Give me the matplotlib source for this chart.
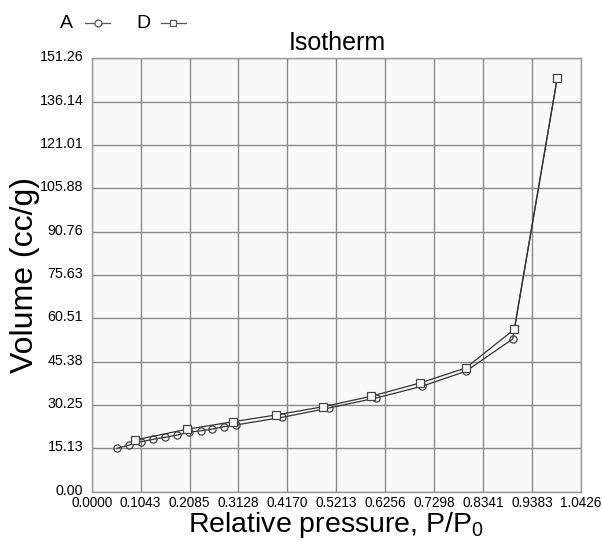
import matplotlib
matplotlib.use("Agg")
import matplotlib.pyplot as plt
import matplotlib.transforms as mtransforms
import numpy as np

plt.rcParams['font.family'] = ['Liberation Sans', 'DejaVu Sans']

# Series A (circles)
a_x = [0.0545, 0.0795, 0.1050, 0.1313, 0.1568, 0.1824, 0.2067, 0.2329, 0.2570,
       0.2819, 0.3068, 0.4061, 0.5056, 0.6058, 0.7032, 0.7969, 0.8971, 0.9921]
a_y = [15.15, 16.30, 17.45, 18.29, 18.99, 19.79, 20.73, 21.29, 21.88,
       22.69, 23.28, 25.97, 29.21, 32.70, 36.78, 42.02, 53.29, 144.49]

# Series D (squares)
d_x = [0.0923, 0.2024, 0.3017, 0.3921, 0.4935, 0.5951, 0.6995, 0.7969, 0.9005, 0.9921]
d_y = [18.04, 21.78, 24.43, 26.77, 29.67, 33.29, 37.94, 43.17, 56.68, 144.49]

x_ticks = [0.0000, 0.1043, 0.2085, 0.3128, 0.4170, 0.5213, 0.6256, 0.7298, 0.8341, 0.9383, 1.0426]
x_labels = ["0.0000", "0.1043", "0.2085", "0.3128", "0.4170", "0.5213", "0.6256",
            "0.7298", "0.8341", "0.9383", "1.0426"]
y_ticks = [0.00, 15.13, 30.25, 45.38, 60.51, 75.63, 90.76, 105.88, 121.01, 136.14, 151.26]
y_labels = ["0.00", "15.13", "30.25", "45.38", "60.51", "75.63", "90.76",
            "105.88", "121.01", "136.14", "151.26"]

fig = plt.figure(figsize=(6.02, 5.41), dpi=100)
fig.patch.set_facecolor('white')
ax = fig.add_axes([0.1523, 0.0911, 0.9651 - 0.1523, 0.8922 - 0.0911])
ax.set_facecolor('#f9f9f9')

ax.plot(a_x, a_y, color='#333333', lw=0.9, marker='o', ms=5.2, mfc='none',
        mec='#444444', mew=0.9, zorder=3)
ax.plot(d_x, d_y, color='#333333', lw=0.9, marker='s', ms=5.4, mfc='#f9f9f9',
        mec='#444444', mew=0.9, zorder=4)

ax.set_xlim(0, 1.0426)
ax.set_ylim(0, 151.26)
ax.set_xticks(x_ticks)
ax.set_xticklabels(x_labels, fontsize=9.8)
ax.set_yticks(y_ticks)
ax.set_yticklabels(y_labels, fontsize=10.3)
ax.tick_params(axis='x', length=0, pad=3)
ax.tick_params(axis='y', length=0, pad=6)
shift = mtransforms.ScaledTranslation(0, 2.5 / 100, fig.dpi_scale_trans)
for lab in ax.get_yticklabels():
    lab.set_verticalalignment('center_baseline')
    lab.set_transform(lab.get_transform() + shift)
ax.grid(True, color='#8a8a8a', lw=1.0)
ax.set_axisbelow(True)
for s in ax.spines.values():
    s.set_color('#9a9a9a')
    s.set_linewidth(1.0)

ax.set_xlabel("Relative pressure, P/P$_\\mathregular{0}$", fontsize=20.5, labelpad=0)
ax.set_ylabel("Volume (cc/g)", fontsize=23, labelpad=0)

fig.text(337 / 602, 1 - 43 / 541, "Isotherm", fontsize=18, ha='center', va='center')

# legend
fig.text(60 / 602, 1 - 23 / 541, "A", fontsize=14, ha='left', va='center')
fig.text(136 / 602, 1 - 23 / 541, "D", fontsize=14, ha='left', va='center')
fig.add_artist(plt.Line2D([85 / 602, 110 / 602], [1 - 23 / 541] * 2, color='#555555',
                          lw=0.9, transform=fig.transFigure))
fig.add_artist(plt.Line2D([97.5 / 602], [1 - 23 / 541], marker='o', ms=5, mfc='white',
                          mec='#555555', mew=0.9, transform=fig.transFigure))
fig.add_artist(plt.Line2D([161 / 602, 186 / 602], [1 - 23 / 541] * 2, color='#555555',
                          lw=0.9, transform=fig.transFigure))
fig.add_artist(plt.Line2D([173.5 / 602], [1 - 23 / 541], marker='s', ms=5, mfc='white',
                          mec='#555555', mew=0.9, transform=fig.transFigure))

fig.savefig("out.png", dpi=100)
